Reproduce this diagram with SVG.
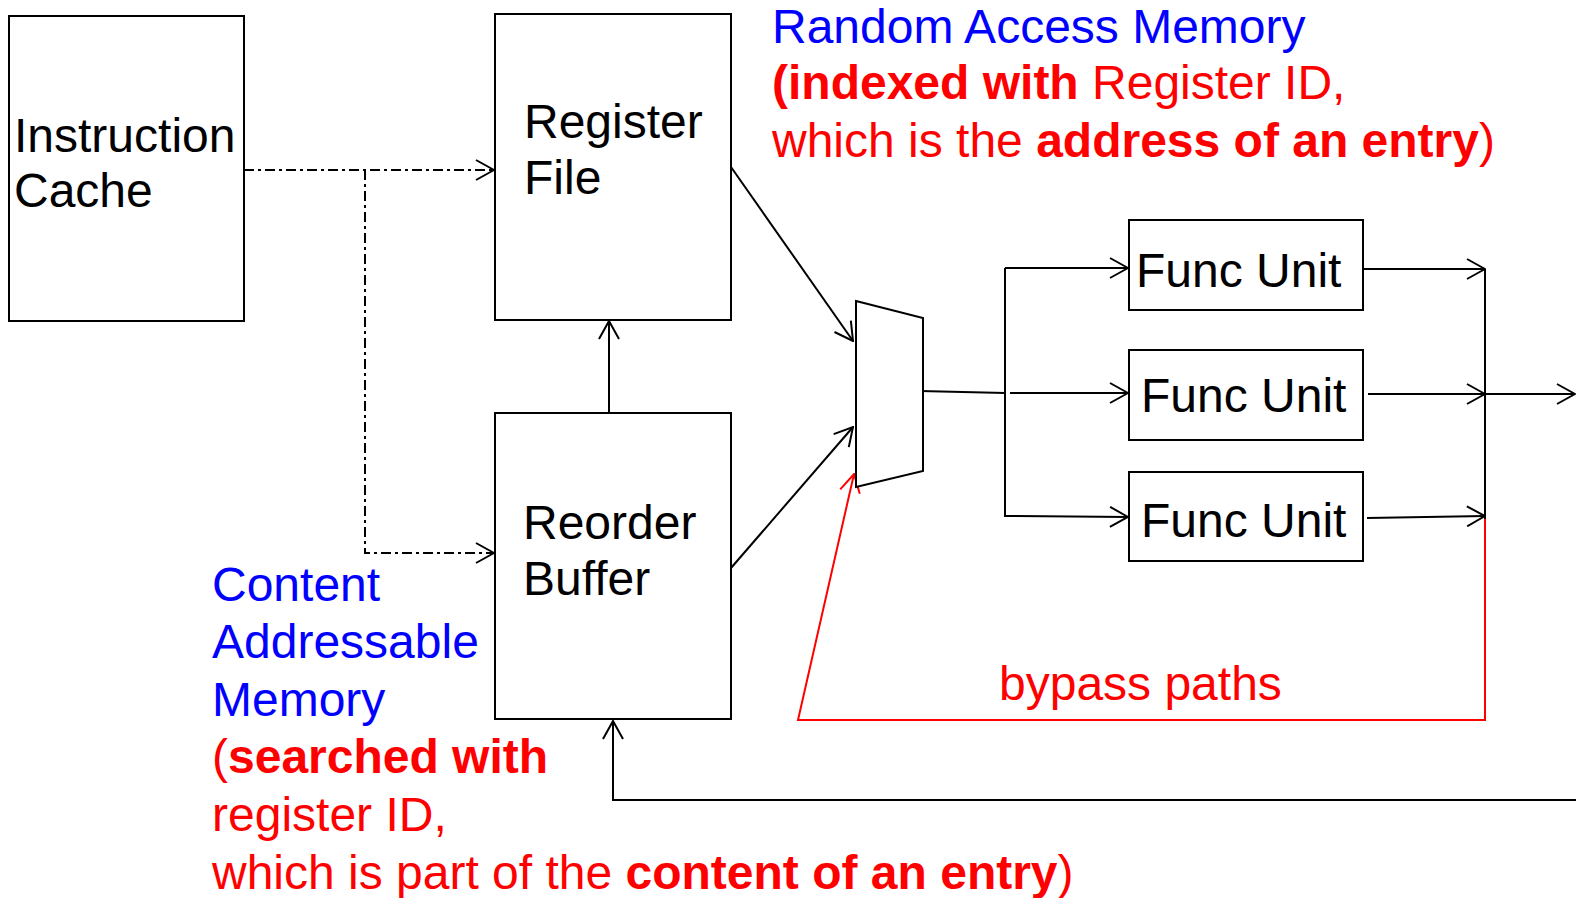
<svg xmlns="http://www.w3.org/2000/svg" width="1576" height="898" viewBox="0 0 1576 898">
<defs>
<style>
text{font-family:"Liberation Sans",Arial,sans-serif;font-size:48px}
.box{fill:#fff;stroke:#000;stroke-width:2}
.ln{fill:none;stroke:#000;stroke-width:2}
.dd{fill:none;stroke:#000;stroke-width:2;stroke-dasharray:10 4 3 4}
.red{fill:none;stroke:#f00;stroke-width:2}
.blue{fill:#00f}
.r{fill:#f00}
.b{font-weight:bold}
</style>
<marker id="ah" markerUnits="userSpaceOnUse" viewBox="0 0 20 22" refX="19" refY="11" markerWidth="20" markerHeight="22" orient="auto">
<path d="M1,1 L19,11 L1,21" fill="none" stroke="#000" stroke-width="2"/>
</marker>
<marker id="ahr" markerUnits="userSpaceOnUse" viewBox="0 0 20 22" refX="19" refY="11" markerWidth="20" markerHeight="22" orient="auto">
<path d="M1,1 L19,11 L1,21" fill="none" stroke="#f00" stroke-width="2"/>
</marker>
</defs>
<rect width="1576" height="898" fill="#fff"/>

<g id="connectors">
<path class="dd" d="M244,170 L494,170" marker-end="url(#ah)"/>
<path class="dd" d="M365,170 L365,553 L494,553" marker-end="url(#ah)"/>
<path class="ln" d="M609,413 L609,321" marker-end="url(#ah)"/>
<path class="ln" d="M731,167 L853,341" marker-end="url(#ah)"/>
<path class="ln" d="M731,568 L853,427" marker-end="url(#ah)"/>
<path class="ln" d="M920,391 L1005,393"/>
<path class="ln" d="M1005,268 L1005,517"/>
<path class="ln" d="M1005,268 L1128,268" marker-end="url(#ah)"/>
<path class="ln" d="M1010,393 L1128,393" marker-end="url(#ah)"/>
<path class="ln" d="M1005,516 L1128,517" marker-end="url(#ah)"/>
<path class="ln" d="M1363,269 L1485,269" marker-end="url(#ah)"/>
<path class="ln" d="M1368,394 L1485,394" marker-end="url(#ah)"/>
<path class="ln" d="M1367,518 L1485,516" marker-end="url(#ah)"/>
<path class="ln" d="M1485,269 L1485,519"/>
<path class="ln" d="M1485,394 L1575,394" marker-end="url(#ah)"/>
<path class="red" d="M1485,519 L1485,720 L798,720 L854,474" marker-end="url(#ahr)"/>
<path class="ln" d="M1576,800 L613,800 L613,721" marker-end="url(#ah)"/>
</g>

<g id="instruction-cache">
<rect class="box" x="9" y="16" width="235" height="305"/>
<text x="14" y="152">Instruction</text>
<text x="14" y="207">Cache</text>
</g>

<g id="register-file">
<rect class="box" x="495" y="14" width="236" height="306"/>
<text x="524" y="138">Register</text>
<text x="524" y="194">File</text>
</g>

<g id="reorder-buffer">
<rect class="box" x="495" y="413" width="236" height="306"/>
<text x="523" y="539">Reorder</text>
<text x="523" y="595">Buffer</text>
</g>

<g id="mux">
<polygon class="box" points="856,301 923,318 923,471 856,487"/>
</g>

<g id="func-unit-1">
<rect class="box" x="1129" y="220" width="234" height="90"/>
<text x="1136" y="287">Func Unit</text>
</g>
<g id="func-unit-2">
<rect class="box" x="1129" y="350" width="234" height="90"/>
<text x="1141" y="412">Func Unit</text>
</g>
<g id="func-unit-3">
<rect class="box" x="1129" y="472" width="234" height="89"/>
<text x="1141" y="537">Func Unit</text>
</g>

<g id="ram-label">
<text x="772" y="43" class="blue">Random Access Memory</text>
<text x="772" y="99" class="r"><tspan class="b">(indexed with</tspan> Register ID,</text>
<text x="772" y="157" class="r">which is the <tspan class="b">address of an entry</tspan>)</text>
</g>

<g id="cam-label">
<text x="212" y="601" class="blue">Content</text>
<text x="212" y="658" class="blue">Addressable</text>
<text x="212" y="716" class="blue">Memory</text>
<text x="212" y="773" class="r">(<tspan class="b">searched with</tspan></text>
<text x="212" y="831" class="r">register ID,</text>
<text x="212" y="889" class="r">which is part of the <tspan class="b">content of an entry</tspan>)</text>
</g>

<g id="bypass-label">
<text x="999" y="700" class="r">bypass paths</text>
</g>
</svg>
